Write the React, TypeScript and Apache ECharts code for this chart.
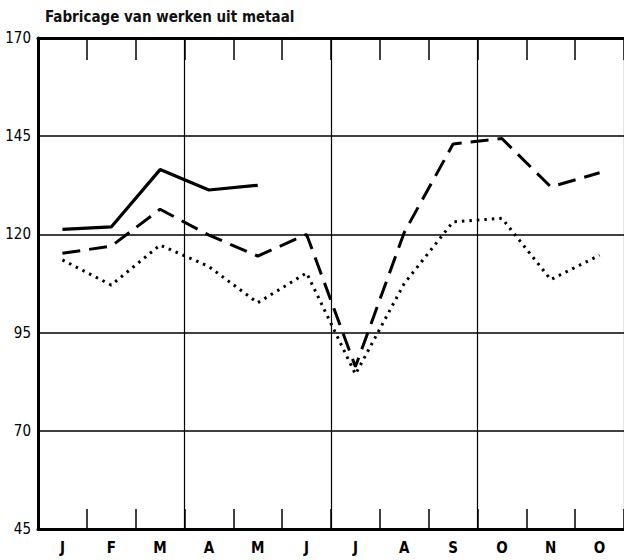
import React, { useEffect, useRef } from "react";
import * as echarts from "echarts";

const title = "Fabricage van werken uit metaal";
const months = ["J", "F", "M", "A", "M", "J", "J", "A", "S", "O", "N", "O"];
const yTicks = [45, 70, 95, 120, 145, 170];
const solidSeries = [121.3, 121.9, 136.5, 131.3, 132.5, null, null, null, null, null, null, null];
const dashedSeries = [115.2, 117, 126.4, 119.8, 114.5, 120, 86.3, 120.5, 143, 144.4, 132.1, 135.7];
const dottedSeries = [113.5, 107.1, 117.3, 111.8, 102.6, 110.2, 84.4, 107.5, 123.2, 124.1, 108.5, 114.7];

const FONT = "'Liberation Sans Narrow', 'DejaVu Sans Condensed', 'Roboto', sans-serif";

export default function App() {
  const ref = useRef<HTMLDivElement>(null);
  useEffect(() => {
    document.body.style.margin = "0";
    const chart = echarts.init(ref.current!, null, { renderer: "svg" });
    const grid = { left: 38, top: 38, width: 588, height: 491 };
    chart.setOption({
      animation: false,
      backgroundColor: "#ffffff",
      title: {
        text: title,
        left: 40,
        top: 4,
        textStyle: { fontFamily: FONT, fontSize: 15, fontWeight: "bold", color: "#111" },
      },
      grid,
      xAxis: [
        {
          type: "category",
          data: months,
          boundaryGap: true,
          position: "bottom",
          axisLine: { lineStyle: { color: "#000", width: 3 } },
          axisTick: { show: true, inside: true, length: 20, interval: 0, lineStyle: { color: "#000", width: 1.5 } },
          axisLabel: {
            interval: 0,
            margin: 11,
            fontFamily: FONT,
            fontSize: 15,
            fontWeight: "bold",
            color: "#000",
          },
          splitLine: { show: false },
        },
        {
          type: "value",
          min: 0,
          max: 12,
          interval: 1,
          position: "top",
          axisLine: { show: true, lineStyle: { color: "#000", width: 3 } },
          axisTick: { show: true, inside: true, length: 22, lineStyle: { color: "#000", width: 1.5 } },
          axisLabel: { show: false },
          splitLine: { show: false },
        },
        {
          type: "value",
          min: 0,
          max: 12,
          interval: 3,
          position: "top",
          show: true,
          axisLine: { show: false },
          axisTick: { show: false },
          axisLabel: { show: false },
          splitLine: { show: true, lineStyle: { color: "#000", width: 1.2 } },
        },
      ],
      yAxis: {
        type: "value",
        min: yTicks[0],
        max: yTicks[yTicks.length - 1],
        interval: 25,
        axisLine: { show: true, lineStyle: { color: "#000", width: 3 } },
        axisTick: { show: false },
        axisLabel: {
          margin: 7,
          fontFamily: FONT,
          fontSize: 15,
          color: "#000",
        },
        splitLine: { show: true, lineStyle: { color: "#000", width: 1.5 } },
      },
      series: [
        {
          type: "line",
          data: solidSeries,
          xAxisIndex: 0,
          symbol: "none",
          connectNulls: false,
          lineStyle: { color: "#000", width: 3.2, type: "solid" },
        },
        {
          type: "line",
          data: dashedSeries,
          xAxisIndex: 0,
          symbol: "none",
          lineStyle: { color: "#000", width: 3, type: [18, 9] },
        },
        {
          type: "line",
          data: dottedSeries,
          xAxisIndex: 0,
          symbol: "none",
          lineStyle: { color: "#000", width: 3, type: [2.5, 5] },
        },
      ],
    });
    return () => chart.dispose();
  }, []);
  return <div ref={ref} style={{ width: 624, height: 560 }} />;
}
